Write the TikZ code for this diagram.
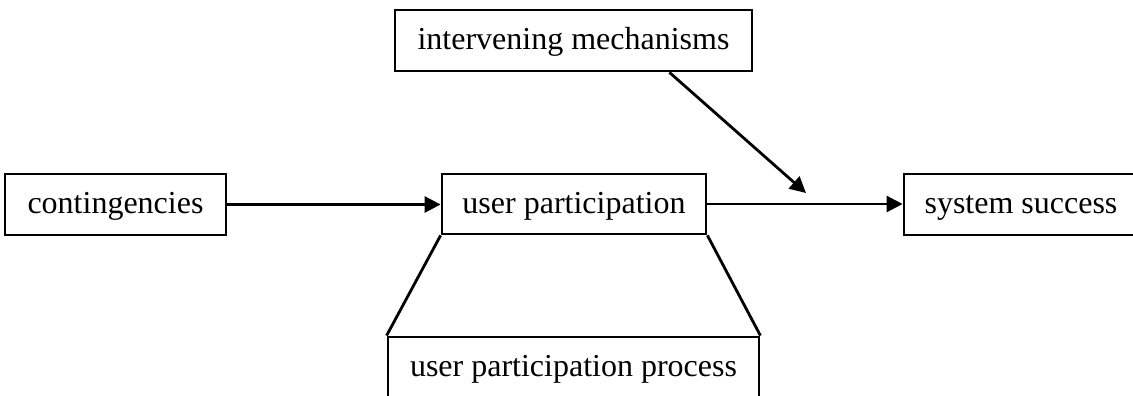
\documentclass[tikz,border=0pt]{standalone}
\usepackage{fontspec}
\setmainfont{Liberation Serif}
\usetikzlibrary{arrows.meta,calc}
\begin{document}
\begin{tikzpicture}[x=1pt,y=-1pt,
  box/.style={draw,line width=2.8pt,inner sep=0pt,font=\fontsize{32}{38}\selectfont,text height=23pt,text depth=5pt,minimum height=61pt},
  conn/.style={line width=2.8pt,-{Triangle[length=16pt,width=16pt]}},
  link/.style={line width=2.8pt}]
\useasboundingbox (0,0) rectangle (1133,396);
\clip (0,0) rectangle (1133,396);
\node[box,minimum width=357pt] (im) at (573.5,40.5) {intervening mechanisms};
\node[box,minimum width=221pt] (ct) at (115.5,204.5) {contingencies};
\node[box,minimum width=264pt,minimum height=60pt] (up) at (574,204) {user participation};
\node[box,minimum width=250pt] (ss) at (1029,204.5) {system success\kern16pt\relax};
\node[box,minimum width=371pt] (upp) at (573.5,367.5) {user participation process};
\coordinate (tip) at (806,193);
\draw[conn] (ct.east) -- (ct.east -| up.west);
\draw[conn] (up.east) -- (up.east -| ss.west);
\draw[conn] ([xshift=-84pt]im.south east) -- (tip);
\draw[link] (up.south west) -- (upp.north west);
\draw[link] (up.south east) -- (upp.north east);
\end{tikzpicture}
\end{document}
